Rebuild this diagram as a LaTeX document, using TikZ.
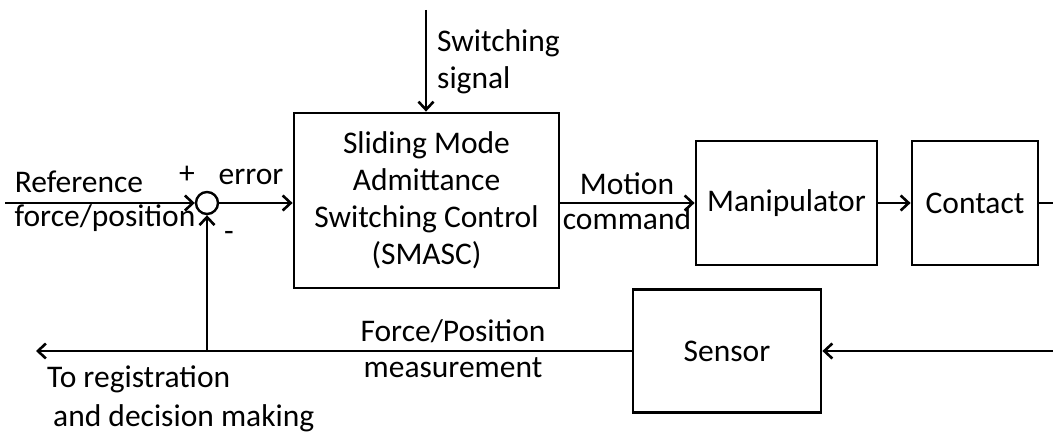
\documentclass[tikz,border=0pt]{standalone}
\usepackage{fontspec}
\setmainfont{Carlito}
\usetikzlibrary{arrows.meta,positioning}
\begin{document}
\begin{tikzpicture}[x=1pt,y=1pt,
    every node/.style={font=\fontsize{31.5}{37}\selectfont, inner sep=0pt},
    block/.style={draw, line width=2.8pt, align=center},
    sumnode/.style={draw, circle, line width=2.4pt, minimum size=22pt},
    sig/.style={line width=2.8pt, -{Straight Barb[length=8pt,width=15pt,line width=2.6pt]}},
    wire/.style={line width=2.8pt}
]
    \useasboundingbox (0,0) rectangle (1053,436);

    \node[sumnode] (sum) at (207,233) {};
    \node[block, minimum width=265pt, minimum height=175pt] (smasc) at (426.5,235.5)
        {Sliding Mode\\Admittance\\Switching Control\\(SMASC)};
    \node[block, minimum width=181pt, minimum height=124pt] (manip) at (786.5,233) {Manipulator};
    \node[block, minimum width=126pt, minimum height=124pt] (contact) at (975,233) {Contact};
    \node[block, minimum width=188pt, minimum height=123pt] (sensor) at (727,85) {Sensor};

    \coordinate (refin) at (5,233);
    \coordinate (swin) at (426,426);
    \coordinate (plantout) at (1053,233);
    \coordinate (measin) at (1053,85);
    \coordinate (decout) at (36,85);
    \coordinate (tap) at (207,85);

    \draw[sig] (refin) -- (sum.west);
    \draw[sig] (sum.east) -- (sum.east -| smasc.west);
    \draw[sig] (swin) -- (swin |- smasc.north);
    \draw[sig] (smasc.east |- manip) -- (manip.west);
    \draw[sig] (manip.east) -- (contact.west);
    \draw[wire] (contact.east) -- (plantout);
    \draw[sig] (measin) -- (sensor.east);
    \draw[sig] (sensor.west) -- (decout);
    \draw[sig] (tap) -- (sum.south);

    \node[anchor=base] (reflbla) at (79,243) {Reference};
    \node[anchor=base] (reflblb) at (105,209) {force/position};
    \node (plus) at (187,261) {+};
    \node (minus) at (229,200) {-};
    \node[anchor=base] (errlbl) at (251,251) {error};
    \node[anchor=base west, align=left] (swlbl) at (437,347) {Switching\\signal};
    \node[anchor=base] (motlbla) at (627,241) {Motion};
    \node[anchor=base] (motlblb) at (627,206) {command};
    \node[anchor=base] (measlbla) at (453,94) {Force/Position};
    \node[anchor=base] (measlblb) at (453,58) {measurement};
    \node[anchor=base west] (declbla) at (47,48) {To registration};
    \node[anchor=base west] (declblb) at (53,9) {and decision making};
\end{tikzpicture}
\end{document}
